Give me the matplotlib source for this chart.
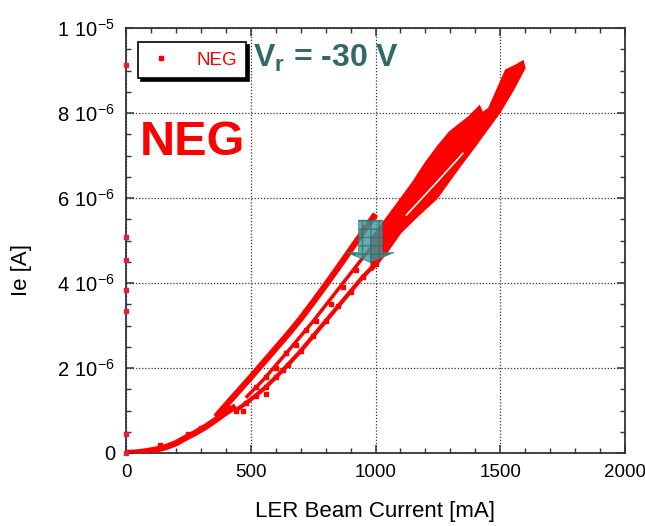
import numpy as np
import matplotlib
matplotlib.use("Agg")
import matplotlib.pyplot as plt
import matplotlib.patches as mpatches
from matplotlib.ticker import MultipleLocator

plt.rcParams['font.family'] = ['Liberation Sans', 'DejaVu Sans']
plt.rcParams['mathtext.fontset'] = 'custom'
plt.rcParams['mathtext.rm'] = 'Liberation Sans'
plt.rcParams['mathtext.bf'] = 'Liberation Sans:bold'

# ---------------- data (x: LER beam current [mA], y: Ie [uA]) ----------------
start_x = [0, 40, 80, 120, 160, 200, 240, 280, 320, 360, 400, 440]
start_y = [0.0, 0.01, 0.04, 0.08, 0.14, 0.23, 0.36, 0.48, 0.62, 0.78, 0.95, 1.1]

band_a_x = [360, 400, 450, 500, 550, 600, 650, 700, 750, 800, 850, 900, 950, 1000]
band_a_y = [0.85, 1.12, 1.45, 1.78, 2.12, 2.46, 2.8, 3.16, 3.55, 3.95, 4.36, 4.78, 5.2, 5.62]

band_b_x = [480, 550, 650, 750, 850, 950, 1000]
band_b_y = [1.3, 1.72, 2.4, 3.1, 3.85, 4.6, 4.95]

band_c_x = [440, 480, 520, 560, 600, 650, 700, 750, 800, 850, 900, 950, 1000]
band_c_y = [1.0, 1.17, 1.35, 1.55, 1.78, 2.08, 2.4, 2.75, 3.1, 3.45, 3.8, 4.15, 4.45]

scatter_x = [136, 520, 560, 600, 630, 640, 680, 720, 760, 820, 870, 920, 560, 470, 410, 300, 250]
scatter_y = [0.19, 1.55, 1.8, 2.0, 1.95, 2.35, 2.55, 2.9, 3.1, 3.5, 3.9, 4.3, 1.4, 1.0, 1.05, 0.6, 0.45]

axis_x = [0, 0, 0, 0, 0, 0, 0]
axis_y = [9.13, 5.08, 4.54, 3.84, 3.34, 0.45, 0.0]

upper_x = [985, 1050, 1100, 1150, 1200, 1250, 1300, 1376, 1416, 1428, 1456, 1524, 1560, 1590]
upper_y = [5.05, 5.55, 5.95, 6.35, 6.8, 7.2, 7.55, 7.9, 8.14, 7.98, 8.1, 9.0, 9.1, 9.2]
lower_x = [985, 1040, 1100, 1170, 1244, 1330, 1400, 1496, 1550, 1596]
lower_y = [4.3, 4.7, 5.2, 5.6, 6.0, 6.7, 7.25, 8.02, 8.55, 9.06]

gap_x = [1124, 1250, 1350]
gap_y = [5.6, 6.4, 7.05]

x_ticks = [0, 500, 1000, 1500, 2000]
x_tick_labels = ['0', '500', '1000', '1500', '2000']
y_ticks = [0, 2, 4, 6, 8, 10]
y_tick_labels = ['0', r'$\mathregular{2\ 10^{-6}}$', r'$\mathregular{4\ 10^{-6}}$',
                 r'$\mathregular{6\ 10^{-6}}$', r'$\mathregular{8\ 10^{-6}}$',
                 r'$\mathregular{1\ 10^{-5}}$']

RED = '#ff0000'
TEAL = '#336868'

fig = plt.figure(figsize=(6.45, 5.26), dpi=100)
ax = fig.add_axes([126/645, 1 - 453/526, 499/645, 425/526])

# bands
ax.plot(start_x, start_y, color=RED, lw=4.5, solid_capstyle='butt', zorder=3)
ax.plot(band_a_x, band_a_y, color=RED, lw=4.5, solid_capstyle='butt', zorder=3)
ax.plot(band_b_x, band_b_y, color=RED, lw=2.5, solid_capstyle='butt', zorder=3)
ax.plot(band_c_x, band_c_y, color=RED, lw=3.0, marker='s', ms=3, solid_capstyle='butt', zorder=3)
ax.plot(scatter_x, scatter_y, ls='none', marker='s', ms=3, color=RED, zorder=3)
ax.plot(axis_x, axis_y, ls='none', marker='s', ms=2.5, color='#e0203a', zorder=4, clip_on=False)

ax.fill(np.concatenate([upper_x, lower_x[::-1]]), np.concatenate([upper_y, lower_y[::-1]]),
        color=RED, lw=2, ec=RED, zorder=3)
ax.plot(gap_x, gap_y, color='white', lw=1.2, zorder=3.5)

# legend handle
ax.plot([], [], ls='none', marker='s', ms=2.5, color=RED, label='NEG')

# arrow annotation
arrow = mpatches.FancyArrow(980, 5.48, 0, -1.0, width=96, head_width=190, head_length=0.24,
                            length_includes_head=True, facecolor='#3c9a9a', edgecolor='#2d6f6f',
                            alpha=0.8, hatch='++', lw=0.5, zorder=5)
ax.add_patch(arrow)

ax.set_xlim(0, 2000)
ax.set_ylim(0, 10)
ax.set_xticks(x_ticks)
ax.set_xticklabels(x_tick_labels)
ax.set_yticks(y_ticks)
ax.set_yticklabels(y_tick_labels)
ax.xaxis.set_minor_locator(MultipleLocator(100))
ax.yaxis.set_minor_locator(MultipleLocator(0.5))
ax.tick_params(which='both', direction='in', top=True, right=True, colors='#333333',
               labelcolor='black')
ax.tick_params(axis='x', labelsize=13.5)
ax.tick_params(axis='y', labelsize=14.5)
ax.tick_params(which='major', length=6, width=1.1, pad=8)
ax.tick_params(which='minor', length=3.5, width=1.0)
for s in ax.spines.values():
    s.set_color('#333333')
    s.set_linewidth(1.3)
ax.grid(True, which='major', ls=(0, (1, 1.5)), color='#333333', lw=0.9)
ax.set_axisbelow(True)

leg = ax.legend(loc='upper left', bbox_to_anchor=(0.024, 0.967), fancybox=False,
                shadow={'color': 'black', 'alpha': 1.0}, edgecolor='black', framealpha=1,
                fontsize=13.5, labelcolor=RED, handlelength=1.5, handletextpad=1.1,
                borderpad=0.5, borderaxespad=0)
leg.get_frame().set_linewidth(1.2)

ax.text(0.2545, 0.908, r'V$_{\mathbf{r}}$ = -30 V', transform=ax.transAxes, fontsize=23,
        fontweight='bold', color=TEAL, va='baseline', ha='left', zorder=6)
ax.text(0.028, 0.701, 'NEG', transform=ax.transAxes, fontsize=35, fontweight='bold',
        color=RED, va='baseline', ha='left', zorder=6)

fig.text(22/645, 1 - 270/526, 'Ie [A]', rotation=90, fontsize=16, ha='center', va='center')
fig.text(375/645, 1 - 512/526, 'LER Beam Current [mA]', fontsize=16, ha='center', va='center')

fig.savefig('out.png', dpi=100)
